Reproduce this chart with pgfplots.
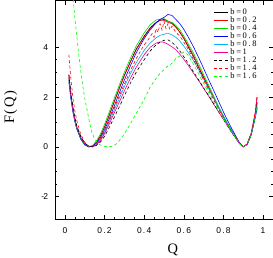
\documentclass[border=0pt]{standalone}
\usepackage{fontspec}
\setmainfont{Liberation Serif}
\newfontfamily\ticksfont[LetterSpace=15]{Liberation Sans}
\newfontfamily\legfont[LetterSpace=20]{Liberation Serif}
\newfontfamily\labfont[LetterSpace=12]{Liberation Serif}
\usepackage{pgfplots}
\pgfplotsset{compat=1.18}
\begin{document}
\begin{tikzpicture}
\begin{axis}[
  at={(0,0)}, anchor=south west,
  scale only axis, width=218bp, height=219bp,
  xmin=-0.05, xmax=1.05, ymin=-2.9, ymax=5.9,
  xtick={0,0.2,0.4,0.6,0.8,1},
  xticklabels={0,0.2,0.4,0.6,0.8,1},
  ytick={-2,0,2,4},
  yticklabels={-\kern-1pt 2,0,2,4},
  minor x tick num=3, minor y tick num=3,
  tick align=inside, major tick length=4.5bp, minor tick length=2.5bp,
  tick style={black, line width=0.5pt},
  axis line style={line width=0.6pt},
  ticklabel style={font=\ticksfont\fontsize{8.5}{9}\selectfont},
  xticklabel style={yshift=-5bp},
  yticklabel style={xshift=-3.5bp},
  xlabel={Q}, ylabel={F(Q)},
  label style={font=\labfont\fontsize{14.5}{16}\selectfont, inner sep=0pt},
  xlabel style={at={(rel axis cs:0.54,-0.158)}, anchor=base},
  ylabel style={at={(rel axis cs:-0.204,0.51)}, anchor=center},
  every axis plot/.append style={no markers, line width=0.6pt},
  legend image code/.code={\draw[#1] (0bp,0bp) -- (14bp,0bp);},
  legend cell align=left,
  legend style={draw=none, fill=none, at={(rel axis cs:0.725,0.963)}, anchor=north west,
    inner sep=0pt, row sep=0pt, column sep=2.5bp,
    nodes={inner sep=0pt, text height=6bp, text depth=2bp, font=\legfont\fontsize{8.5}{8.5}\selectfont}},
]
% b=0
\addplot[black] coordinates {(0.02,2.9)(0.03,2.1)(0.04,1.55)(0.05,1.1)(0.06,0.78)(0.08,0.35)(0.10,0.1)(0.12,0.0)(0.14,0.04)(0.16,0.2)(0.18,0.45)(0.20,0.8)(0.22,1.2)(0.25,1.85)(0.28,2.48)(0.30,2.88)(0.33,3.42)(0.36,3.93)(0.40,4.45)(0.43,4.78)(0.46,5.0)(0.48,5.08)(0.50,5.12)(0.52,5.05)(0.54,4.98)(0.56,4.82)(0.58,4.6)(0.60,4.35)(0.62,4.05)(0.65,3.6)(0.68,3.1)(0.70,2.78)(0.73,2.3)(0.75,1.98)(0.78,1.5)(0.80,1.2)(0.82,0.92)(0.84,0.66)(0.86,0.4)(0.88,0.15)(0.90,0.0)(0.92,0.1)(0.94,0.5)(0.96,1.25)(0.97,1.8)};
\addlegendentry{b=0}
% b=0.2
\addplot[red] coordinates {(0.02,2.8)(0.03,2.05)(0.04,1.5)(0.05,1.08)(0.06,0.76)(0.08,0.34)(0.10,0.1)(0.12,0.0)(0.14,0.03)(0.16,0.19)(0.18,0.44)(0.20,0.78)(0.22,1.18)(0.25,1.82)(0.28,2.45)(0.30,2.85)(0.33,3.4)(0.36,3.9)(0.40,4.42)(0.43,4.75)(0.46,4.98)(0.48,5.1)(0.50,5.08)(0.52,5.0)(0.54,4.95)(0.56,4.8)(0.58,4.62)(0.60,4.38)(0.62,4.1)(0.65,3.65)(0.68,3.15)(0.70,2.82)(0.73,2.33)(0.75,2.0)(0.78,1.52)(0.80,1.22)(0.82,0.93)(0.84,0.66)(0.86,0.4)(0.88,0.15)(0.90,0.0)(0.92,0.12)(0.94,0.55)(0.96,1.35)(0.97,2.0)};
\addlegendentry{b=0.2}
% b=0.4
\addplot[green!85!black] coordinates {(0.02,2.7)(0.03,2.0)(0.04,1.45)(0.05,1.03)(0.06,0.72)(0.08,0.3)(0.10,0.07)(0.12,0.0)(0.14,0.06)(0.16,0.25)(0.18,0.53)(0.20,0.9)(0.22,1.32)(0.25,1.97)(0.28,2.6)(0.30,3.0)(0.33,3.55)(0.36,4.05)(0.40,4.58)(0.43,4.9)(0.46,5.1)(0.48,5.12)(0.50,5.15)(0.52,5.05)(0.54,5.0)(0.56,4.88)(0.58,4.7)(0.60,4.45)(0.62,4.18)(0.65,3.75)(0.68,3.25)(0.70,2.9)(0.73,2.4)(0.75,2.05)(0.78,1.55)(0.80,1.25)(0.82,0.95)(0.84,0.68)(0.86,0.42)(0.88,0.16)(0.90,0.0)(0.92,0.1)(0.94,0.5)(0.96,1.2)(0.97,1.6)};
\addlegendentry{b=0.4}
% b=0.6
\addplot[blue] coordinates {(0.02,2.6)(0.03,1.95)(0.04,1.42)(0.05,1.02)(0.06,0.72)(0.08,0.32)(0.10,0.09)(0.12,0.0)(0.14,0.02)(0.16,0.15)(0.18,0.37)(0.20,0.68)(0.22,1.05)(0.25,1.66)(0.28,2.28)(0.30,2.68)(0.33,3.25)(0.36,3.78)(0.40,4.35)(0.43,4.7)(0.46,4.98)(0.48,5.12)(0.50,5.2)(0.52,5.32)(0.54,5.28)(0.56,5.12)(0.58,4.95)(0.60,4.72)(0.62,4.45)(0.65,4.0)(0.68,3.5)(0.70,3.15)(0.73,2.62)(0.75,2.28)(0.78,1.75)(0.80,1.4)(0.82,1.07)(0.84,0.76)(0.86,0.47)(0.88,0.18)(0.90,0.0)(0.92,0.1)(0.94,0.48)(0.96,1.15)(0.97,1.55)};
\addlegendentry{b=0.6}
% b=0.8
\addplot[cyan] coordinates {(0.02,2.7)(0.03,2.0)(0.04,1.48)(0.05,1.06)(0.06,0.76)(0.08,0.36)(0.10,0.12)(0.12,0.02)(0.14,0.0)(0.16,0.1)(0.18,0.3)(0.20,0.58)(0.22,0.93)(0.25,1.5)(0.28,2.05)(0.30,2.42)(0.33,2.93)(0.36,3.38)(0.40,3.88)(0.43,4.17)(0.46,4.38)(0.48,4.48)(0.50,4.52)(0.52,4.57)(0.54,4.5)(0.56,4.4)(0.58,4.25)(0.60,4.05)(0.62,3.82)(0.65,3.45)(0.68,3.02)(0.70,2.72)(0.73,2.27)(0.75,1.97)(0.78,1.5)(0.80,1.2)(0.82,0.92)(0.84,0.65)(0.86,0.4)(0.88,0.15)(0.90,0.0)(0.92,0.1)(0.94,0.48)(0.96,1.2)(0.97,1.65)};
\addlegendentry{b=0.8}
% b=1
\addplot[magenta] coordinates {(0.02,2.75)(0.03,2.05)(0.04,1.52)(0.05,1.1)(0.06,0.8)(0.08,0.38)(0.10,0.13)(0.12,0.03)(0.14,0.0)(0.16,0.08)(0.18,0.26)(0.20,0.52)(0.22,0.85)(0.25,1.38)(0.28,1.9)(0.30,2.25)(0.33,2.75)(0.36,3.2)(0.40,3.7)(0.43,4.0)(0.46,4.17)(0.48,4.22)(0.50,4.2)(0.52,4.12)(0.54,4.02)(0.56,3.9)(0.58,3.72)(0.60,3.52)(0.62,3.3)(0.65,2.95)(0.68,2.6)(0.70,2.35)(0.73,1.98)(0.75,1.72)(0.78,1.35)(0.80,1.1)(0.82,0.85)(0.84,0.6)(0.86,0.37)(0.88,0.14)(0.90,0.0)(0.92,0.12)(0.94,0.55)(0.96,1.35)(0.97,2.0)};
\addlegendentry{b=1}
% b=1.2
\addplot[black, dash pattern=on 3bp off 2.5bp] coordinates {(0.02,2.9)(0.03,2.2)(0.04,1.62)(0.05,1.18)(0.06,0.85)(0.08,0.42)(0.10,0.15)(0.12,0.03)(0.14,0.0)(0.16,0.06)(0.18,0.2)(0.20,0.42)(0.22,0.72)(0.25,1.2)(0.28,1.7)(0.30,2.05)(0.33,2.55)(0.36,3.0)(0.40,3.5)(0.43,3.85)(0.46,4.1)(0.48,4.2)(0.50,4.28)(0.52,4.3)(0.54,4.2)(0.56,4.05)(0.58,3.85)(0.60,3.62)(0.62,3.38)(0.65,3.0)(0.68,2.62)(0.70,2.37)(0.73,2.0)(0.75,1.74)(0.78,1.36)(0.80,1.1)(0.82,0.85)(0.84,0.6)(0.86,0.37)(0.88,0.14)(0.90,0.0)(0.92,0.1)(0.94,0.5)(0.96,1.25)(0.97,1.8)};
\addlegendentry{b=1.2}
% b=1.4
\addplot[red, dash pattern=on 3bp off 2.5bp] coordinates {(0.02,3.7)(0.025,3.2)(0.03,2.75)(0.04,2.0)(0.05,1.45)(0.06,1.05)(0.08,0.5)(0.10,0.18)(0.12,0.03)(0.14,0.0)(0.16,0.1)(0.18,0.32)(0.20,0.62)(0.22,0.98)(0.25,1.58)(0.28,2.15)(0.30,2.52)(0.33,3.05)(0.36,3.55)(0.40,4.1)(0.42,4.3)(0.44,4.55)(0.45,4.4)(0.46,4.75)(0.47,4.6)(0.48,4.95)(0.49,4.7)(0.50,5.05)(0.51,4.75)(0.52,4.95)(0.53,4.7)(0.54,4.85)(0.56,4.6)(0.58,4.45)(0.60,4.2)(0.62,3.95)(0.65,3.5)(0.68,3.0)(0.70,2.68)(0.73,2.2)(0.75,1.9)(0.78,1.45)(0.80,1.17)(0.82,0.9)(0.84,0.64)(0.86,0.39)(0.88,0.15)(0.90,0.0)(0.92,0.12)(0.94,0.55)(0.96,1.35)(0.97,2.1)};
\addlegendentry{b=1.4}
% b=1.6
\addplot[green, dash pattern=on 3bp off 2.5bp] coordinates {(0.035,6.6)(0.04,6.1)(0.05,5.2)(0.06,4.45)(0.07,3.7)(0.08,3.05)(0.09,2.45)(0.10,1.95)(0.12,1.15)(0.135,0.6)(0.15,0.32)(0.17,0.12)(0.19,0.03)(0.22,0.0)(0.24,0.02)(0.26,0.12)(0.28,0.3)(0.30,0.52)(0.33,0.92)(0.36,1.35)(0.40,1.9)(0.43,2.4)(0.46,2.75)(0.48,2.95)(0.50,3.1)(0.52,3.25)(0.54,3.35)(0.56,3.55)(0.58,3.65)(0.60,3.82)(0.62,3.7)(0.65,3.3)(0.68,2.85)(0.70,2.55)(0.73,2.1)(0.75,1.8)(0.78,1.38)(0.80,1.12)(0.82,0.87)(0.84,0.62)(0.86,0.38)(0.88,0.14)(0.90,0.0)(0.92,0.1)(0.94,0.5)(0.96,1.2)(0.97,1.7)};
\addlegendentry{b=1.6}
\end{axis}
\pgfresetboundingbox
\path[use as bounding box] (-55bp,-39bp) rectangle (218bp,219bp);
\end{tikzpicture}
\end{document}
